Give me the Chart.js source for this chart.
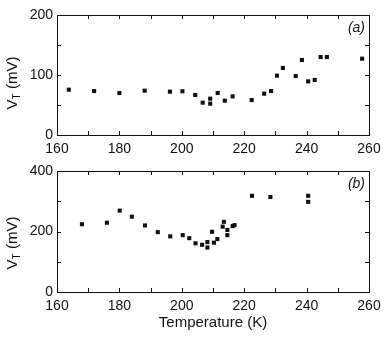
<!DOCTYPE html>
<html>
<head>
<meta charset="utf-8">
<script src="https://cdn.jsdelivr.net/npm/chart.js@4"></script>
<style>
  body { margin: 0; background: #fff; }
  #wrap { position: relative; width: 387px; height: 338px; }
  canvas { position: absolute; left: 0; }
  #chartA { top: 0; }
  #chartB { top: 150px; }
</style>
</head>
<body>
<div id="wrap">
  <canvas id="chartA" width="387" height="155"></canvas>
  <canvas id="chartB" width="387" height="188"></canvas>
</div>
<script>
// panel (a)
const tempA = [163.8, 171.9, 180.0, 188.1, 196.2, 200.2, 204.3, 206.7, 209.1, 209.1, 211.5, 213.8, 216.3,
               222.4, 226.4, 228.6, 230.5, 232.4, 236.5, 238.5, 240.5, 242.6, 244.5, 246.5, 257.8];
const vtA = [75.5, 73.3, 70, 73.9, 72.2, 72.8, 66.7, 53.9, 60.5, 52.2, 70, 57.2, 64.4,
             58.3, 68.9, 73.3, 98.9, 111.7, 98.3, 125, 89.4, 91.7, 130, 130, 127.2];

// panel (b)
const tempB = [168.0, 176.0, 180.1, 184.0, 188.2, 192.3, 196.3, 200.3, 202.4, 204.4, 206.5, 208.2, 208.2,
               209.7, 210.3, 211.4, 213.1, 213.5, 214.6, 214.6, 216.3, 216.9, 222.5, 228.4, 240.5, 240.5];
const vtB = [224, 229, 269, 249, 220, 198, 184, 188, 178, 161, 156, 165, 147,
             199, 163, 175, 216, 232, 205, 188, 218, 221, 318, 314, 318, 298];

const xRange = [160, 260];
const yRangeA = [0, 200];
const yRangeB = [0, 400];

const FONT = "'Liberation Sans', Arial, Helvetica, sans-serif";
const INK = "#111";

function toPoints(xs, ys) {
    return xs.map((x, i) => ({ x: x, y: ys[i] }));
}

// frame + inward ticks, labels (a)/(b), axis titles
function framePlugin(tag, yMinor, titleY, xTitle) {
    return {
        id: "frame",
        afterDraw(chart) {
            const ctx = chart.ctx;
            const a = chart.chartArea;
            const xs = chart.scales.x, ys = chart.scales.y;
            ctx.save();
            ctx.strokeStyle = INK;
            ctx.lineWidth = 1;
            ctx.strokeRect(Math.round(a.left) + 0.5, Math.round(a.top) + 0.5,
                Math.round(a.right - a.left), Math.round(a.bottom - a.top));
            ctx.beginPath();
            for (let v = xRange[0] + 10; v < xRange[1]; v += 10) {
                const px = Math.round(xs.getPixelForValue(v)) + 0.5;
                ctx.moveTo(px, a.bottom); ctx.lineTo(px, a.bottom - 4);
                ctx.moveTo(px, a.top); ctx.lineTo(px, a.top + 4);
            }
            for (let v = ys.min + yMinor; v < ys.max; v += yMinor) {
                const py = Math.round(ys.getPixelForValue(v)) + 0.5;
                ctx.moveTo(a.left, py); ctx.lineTo(a.left + 4, py);
                ctx.moveTo(a.right, py); ctx.lineTo(a.right - 4, py);
            }
            ctx.stroke();

            ctx.fillStyle = INK;
            ctx.font = "italic 14px " + FONT;
            ctx.textAlign = "right";
            ctx.textBaseline = "middle";
            ctx.fillText(tag, a.right - 4, a.top + 13);

            // y title: V_T (mV)
            ctx.save();
            ctx.translate(13, titleY);
            ctx.rotate(-Math.PI / 2);
            ctx.textBaseline = "middle";
            ctx.textAlign = "left";
            ctx.font = "15px " + FONT;
            const wV = ctx.measureText("V").width;
            ctx.font = "10px " + FONT;
            const wT = ctx.measureText("T").width;
            ctx.font = "15px " + FONT;
            const wRest = ctx.measureText(" (mV)").width;
            let x0 = -(wV + wT + wRest) / 2;
            ctx.fillText("V", x0, 0);
            ctx.font = "10px " + FONT;
            ctx.fillText("T", x0 + wV, 4);
            ctx.font = "15px " + FONT;
            ctx.fillText(" (mV)", x0 + wV + wT, 0);
            ctx.restore();

            if (xTitle) {
                ctx.font = "15px " + FONT;
                ctx.textAlign = "center";
                ctx.textBaseline = "middle";
                ctx.fillText(xTitle.text, (a.left + a.right) / 2, xTitle.y);
            }
            ctx.restore();
        }
    };
}

function makeChart(id, xs, ys, yRange, yStep, yMinor, pad, xAxisH, tag, titleY, xTitle) {
    return new Chart(document.getElementById(id), {
        type: "scatter",
        data: {
            datasets: [{
                data: toPoints(xs, ys),
                pointStyle: "rect",
                pointRadius: 2.9,
                borderWidth: 0,
                backgroundColor: INK
            }]
        },
        options: {
            responsive: false,
            animation: false,
            layout: { padding: pad },
            plugins: { legend: { display: false }, tooltip: { enabled: false } },
            scales: {
                x: {
                    type: "linear",
                    min: xRange[0], max: xRange[1],
                    grid: { display: false, drawTicks: false },
                    border: { display: false },
                    ticks: { stepSize: 20, padding: 6, color: INK, font: { family: FONT, size: 14 }, maxRotation: 0 },
                    afterFit(s) { s.height = xAxisH; }
                },
                y: {
                    type: "linear",
                    min: yRange[0], max: yRange[1],
                    grid: { display: false, drawTicks: false },
                    border: { display: false },
                    ticks: { stepSize: yStep, padding: 4, color: INK, font: { family: FONT, size: 14 } },
                    afterFit(s) { s.width = 57; }
                }
            }
        },
        plugins: [framePlugin(tag, yMinor, titleY, xTitle)]
    });
}

// top panel: plot area 57..369 x 15..135
makeChart("chartA", tempA, vtA, yRangeA, 100, 50,
    { left: 0, right: 18, top: 15, bottom: 0 }, 20, "(a)", 83, null);

// bottom panel: plot area 57..369 x 171..292 (canvas offset 150)
makeChart("chartB", tempB, vtB, yRangeB, 200, 100,
    { left: 0, right: 18, top: 21, bottom: 0 }, 46, "(b)", 93,
    { text: "Temperature (K)", y: 173 });
</script>
</body>
</html>
